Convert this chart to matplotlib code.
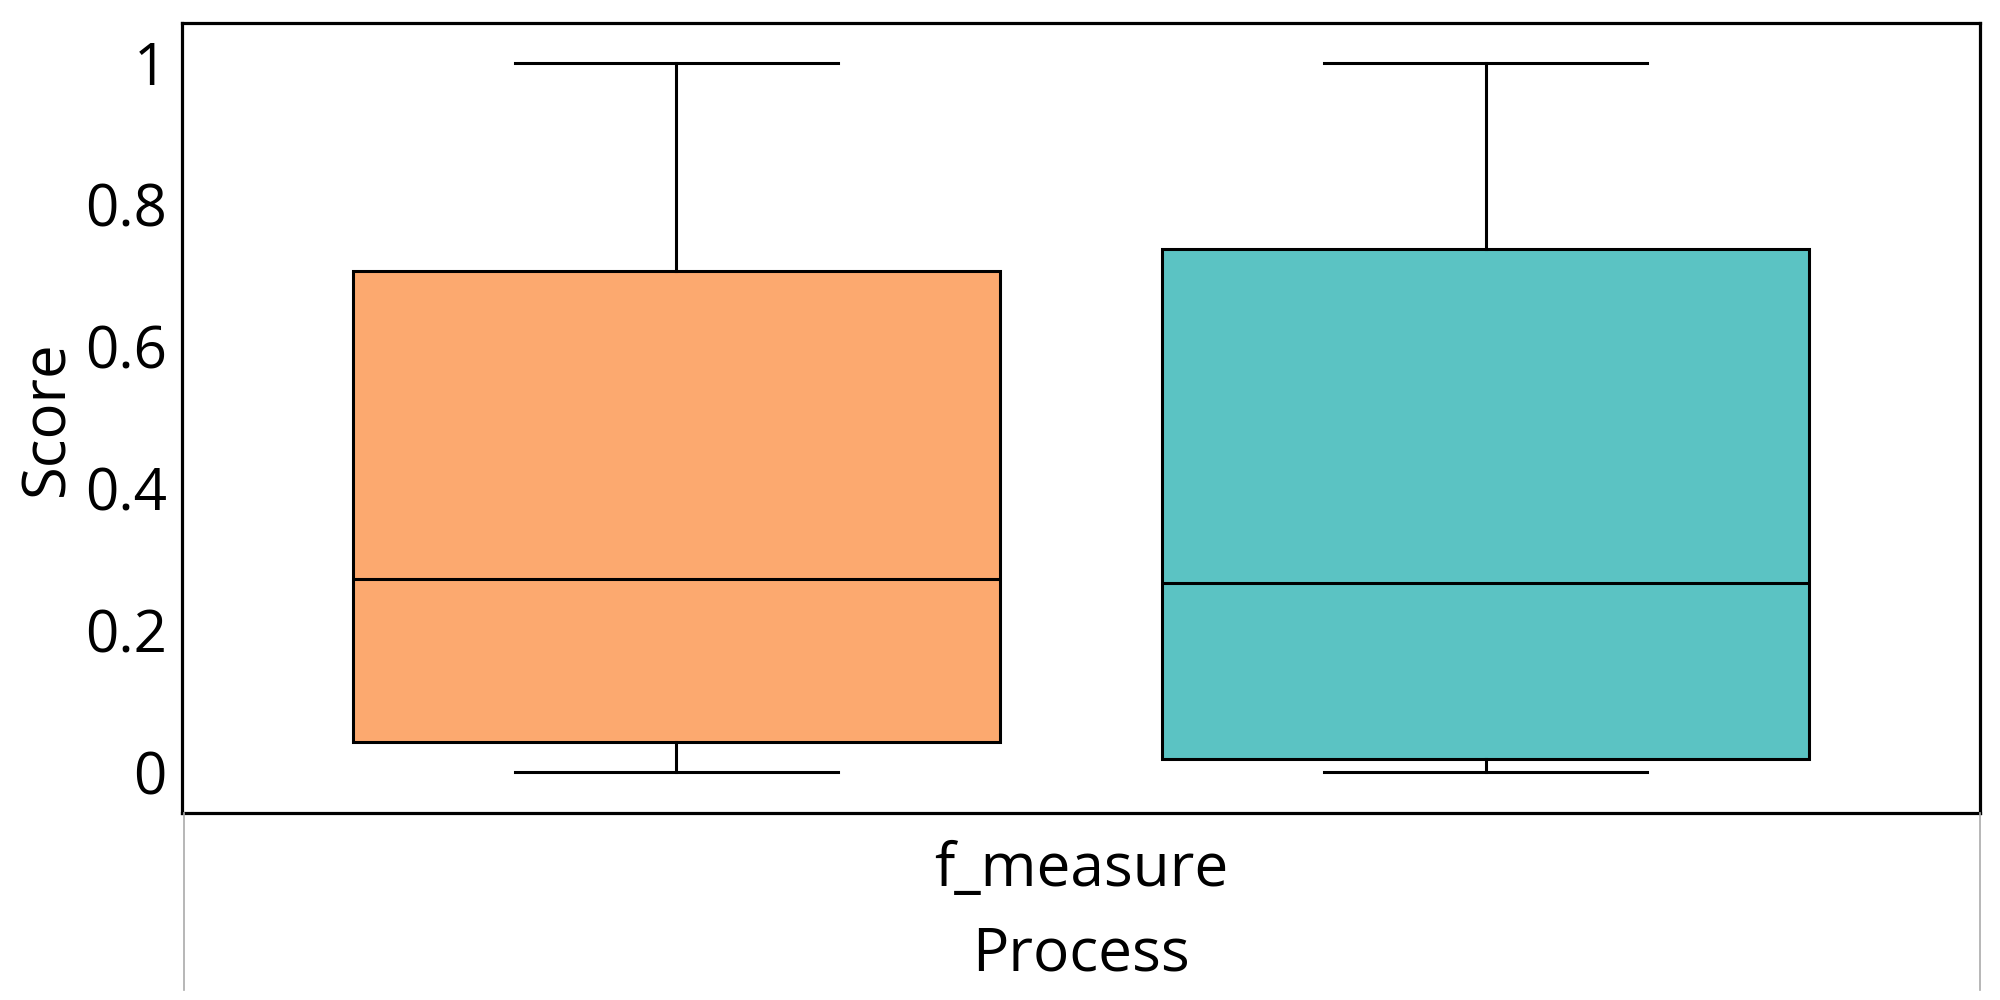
import matplotlib
matplotlib.use("Agg")
import matplotlib.pyplot as plt
from matplotlib.lines import Line2D

# box summary values, one per hue group
category = "f_measure"
groups = ["A", "B"]
whislo = [0.0, 0.0]
q1 = [0.042, 0.018]
med = [0.272, 0.267]
q3 = [0.706, 0.737]
whishi = [1.0, 1.0]
colours = ["#FCA96F", "#5BC3C3"]
offsets = [-0.225, 0.225]

plt.rcParams["font.family"] = ["Open Sans", "DejaVu Sans"]

figure = plt.figure(figsize=(20, 10), dpi=100)
axes = figure.add_axes([0.091, 0.187, 0.899, 0.790])

stats = [dict(label=g, whislo=lo, q1=a, med=m, q3=b, whishi=hi, fliers=[])
         for g, lo, a, m, b, hi in zip(groups, whislo, q1, med, q3, whishi)]
boxes = axes.bxp(stats, positions=offsets, widths=0.36, patch_artist=True,
                 showfliers=False, manage_ticks=False,
                 boxprops=dict(edgecolor="black", linewidth=2.2),
                 medianprops=dict(color="black", linewidth=2.2),
                 whiskerprops=dict(color="black", linewidth=2.2),
                 capprops=dict(color="black", linewidth=2.2),
                 capwidths=0.18)
for patch, c in zip(boxes["boxes"], colours):
    patch.set_facecolor(c)

axes.set_xlim(-0.5, 0.5)
axes.set_ylim(-0.058, 1.056)
axes.set_yticks([0, 0.2, 0.4, 0.6, 0.8, 1])
axes.set_yticklabels(["0", "0.2", "0.4", "0.6", "0.8", "1"])
axes.set_xticks([])
axes.tick_params(axis="y", length=0, pad=11, labelsize=42)
axes.set_ylabel("Score", fontsize=43, labelpad=5)
for s in axes.spines.values():
    s.set_linewidth(2.3)

# category label and divider lines under the axis
axes.text(0.5, -0.072, category, transform=axes.transAxes, ha="center",
          va="center", fontsize=43.5)
axes.text(0.5, -0.179, "Process", transform=axes.transAxes, ha="center",
          va="center", fontsize=43.5)
for x in [0.092, 0.99]:
    figure.add_artist(Line2D([x, x], [0.187, 0.01], color="#aaaaaa",
                             linewidth=1.2, transform=figure.transFigure))

plt.savefig("out.png")
plt.close()
